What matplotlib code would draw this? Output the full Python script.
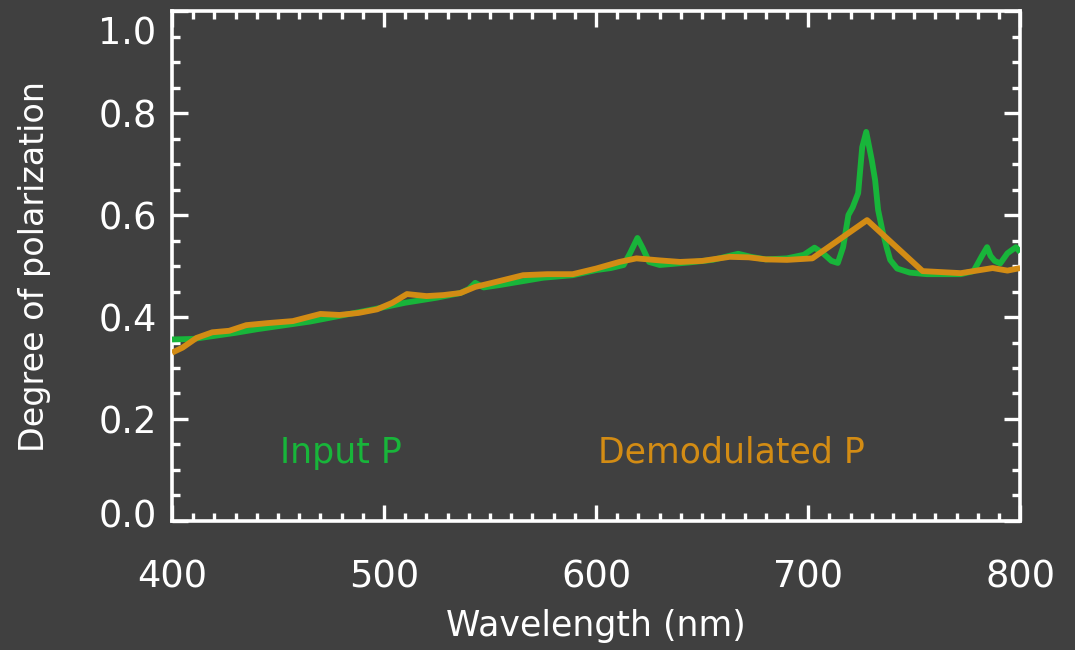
import matplotlib
matplotlib.use("Agg")
import matplotlib.pyplot as plt
from matplotlib.ticker import MultipleLocator
from matplotlib.transforms import ScaledTranslation

# Input polarization spectrum
wl_input = [400, 410, 420, 430, 440, 450, 465, 480, 495, 510, 525, 536, 540, 543,
            547, 555, 565, 575, 589, 600, 607, 613, 616, 619.5, 622, 625, 630, 644,
            655, 663, 667, 673, 680, 690, 698, 703, 707, 711, 714, 716.5, 719, 721,
            723.6, 725.5, 727.4, 730, 731.6, 733, 735, 737, 738.7, 742, 748, 756,
            765, 772, 778, 782, 784.4, 786, 788, 790.6, 794, 798, 800]
p_input = [0.356, 0.357, 0.363, 0.369, 0.376, 0.382, 0.391, 0.403, 0.415, 0.428,
           0.438, 0.447, 0.455, 0.467, 0.458, 0.463, 0.470, 0.477, 0.482, 0.492,
           0.496, 0.502, 0.525, 0.555, 0.535, 0.508, 0.502, 0.507, 0.512, 0.520,
           0.524, 0.518, 0.513, 0.515, 0.522, 0.536, 0.525, 0.510, 0.506, 0.537,
           0.600, 0.615, 0.643, 0.733, 0.763, 0.708, 0.668, 0.610, 0.570, 0.537,
           0.512, 0.495, 0.487, 0.484, 0.484, 0.484, 0.490, 0.520, 0.537, 0.520,
           0.510, 0.505, 0.525, 0.537, 0.527]

# Demodulated polarization spectrum
wl_demod = [400, 405, 411.6, 419, 427, 435, 445, 457, 470, 479, 488, 496.7, 504,
            510.8, 520, 528, 536, 543, 552, 565.6, 577, 589, 600, 611, 619, 630,
            639.6, 650, 663, 672, 680, 690, 702, 727.8, 754, 772, 787, 794, 800]
p_demod = [0.330, 0.340, 0.359, 0.370, 0.373, 0.384, 0.388, 0.392, 0.406, 0.404,
           0.408, 0.415, 0.428, 0.445, 0.441, 0.443, 0.447, 0.459, 0.468, 0.482,
           0.484, 0.484, 0.495, 0.508, 0.515, 0.511, 0.508, 0.510, 0.518, 0.517,
           0.513, 0.512, 0.515, 0.590, 0.490, 0.486, 0.496, 0.491, 0.496]

x_ticks = [400, 500, 600, 700, 800]
y_ticks = [0.0, 0.2, 0.4, 0.6, 0.8, 1.0]

BG = "#404040"
GREEN = "#18b53a"
ORANGE = "#d38c14"
FG = "white"

plt.rcParams["font.family"] = ["DejaVu Sans"]

fig = plt.figure(figsize=(10.75, 6.5), dpi=100, facecolor=BG)
ax = fig.add_axes([0.16, 0.1985, 0.789, 0.7845], facecolor=BG)

ax.plot(wl_input, p_input, color=GREEN, lw=4.2, solid_joinstyle="round",
        solid_capstyle="butt", zorder=3)
ax.plot(wl_demod, p_demod, color=ORANGE, lw=4.2, solid_joinstyle="round",
        solid_capstyle="butt", zorder=4)

ax.set_xlim(400, 800)
ax.set_ylim(0.0, 1.0)
ax.set_xticks(x_ticks)
ax.set_xticklabels([str(v) for v in x_ticks])
ax.set_yticks(y_ticks)
ax.set_yticklabels([f"{v:.1f}" for v in y_ticks])
ax.xaxis.set_minor_locator(MultipleLocator(10))
ax.yaxis.set_minor_locator(MultipleLocator(0.05))

for s in ax.spines.values():
    s.set_color(FG)
    s.set_linewidth(2.6)

ax.tick_params(which="both", direction="in", top=True, right=True, color=FG,
               width=2.4)
ax.tick_params(which="major", length=11.5)
ax.tick_params(which="minor", length=5.8)
ax.tick_params(axis="x", which="major", labelsize=26.5, labelcolor=FG, pad=27)
ax.tick_params(axis="y", which="major", labelsize=26.5, labelcolor=FG, pad=11)

# keep the end labels of the y axis inside the frame
ticks_y = ax.yaxis.get_major_ticks()
lab_top = ticks_y[-1].label1
lab_top.set_transform(lab_top.get_transform()
                      + ScaledTranslation(0, -0.19, fig.dpi_scale_trans))
lab_bot = ticks_y[0].label1
lab_bot.set_transform(lab_bot.get_transform()
                      + ScaledTranslation(0, 0.08, fig.dpi_scale_trans))

ax.set_xlabel("Wavelength (nm)", fontsize=25, color=FG)
ax.xaxis.set_label_coords(0.5, -0.172)
ax.set_ylabel("Degree of polarization", fontsize=24, color=FG)
ax.yaxis.set_label_coords(-0.143, 0.5)

ax.text(451, 0.114, "Input P", color=GREEN, fontsize=25, va="baseline", ha="left")
ax.text(601, 0.114, "Demodulated P", color=ORANGE, fontsize=25, va="baseline",
        ha="left")

fig.savefig("out.png", dpi=100, facecolor=BG)
